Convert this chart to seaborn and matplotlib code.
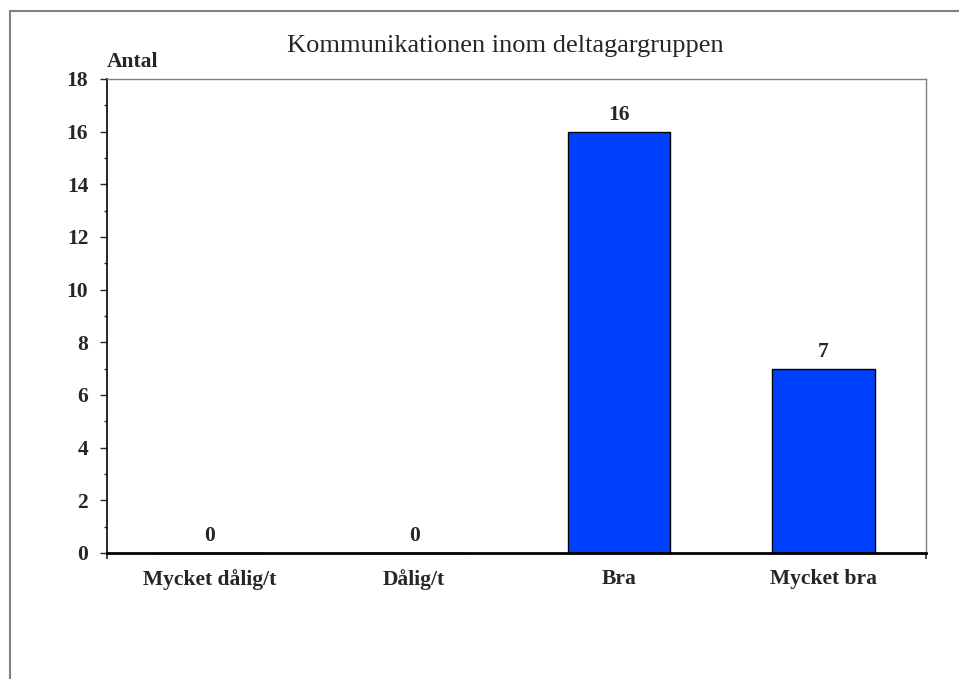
import matplotlib
matplotlib.use("Agg")
import matplotlib.pyplot as plt
import matplotlib.patches as patches
from matplotlib.ticker import MultipleLocator, FixedLocator
import seaborn as sns

# data
kategorier = ['Mycket dålig/t', 'Dålig/t', 'Bra', 'Mycket bra']
antal = [0, 0, 16, 7]
y_ticks = list(range(0, 19, 2))

sns.set_style('white')
plt.rcParams['font.family'] = ['Liberation Serif', 'DejaVu Serif']

fig = plt.figure(figsize=(9.59, 6.79), dpi=100)
ax = fig.add_axes([107/959, 1 - 553/679, 819/959, (553 - 79)/679])

sns.barplot(x=kategorier, y=antal, color='#0040ff', saturation=1, width=0.5,
            edgecolor='black', linewidth=1, ax=ax)

ax.set_xlim(-0.5, 3.5)
ax.set_ylim(0, 18)
ax.set_yticks(y_ticks)
ax.yaxis.set_minor_locator(MultipleLocator(1))
ax.xaxis.set_minor_locator(FixedLocator([-0.5, 3.5]))

ax.tick_params(axis='y', which='major', direction='out', length=5, width=1,
               labelsize=15.5, pad=8.5, left=True)
ax.tick_params(axis='y', which='minor', direction='out', length=2.5, width=1, left=True)
ax.tick_params(axis='x', which='major', length=0, labelsize=15.5, pad=11.5)
ax.tick_params(axis='x', which='minor', direction='out', length=4, width=1.2, bottom=True)
for lbl in ax.get_xticklabels() + ax.get_yticklabels():
    lbl.set_fontweight('bold')

for side in ['top', 'right']:
    ax.spines[side].set_color('#808080')
    ax.spines[side].set_linewidth(1)
ax.spines['left'].set_color('black')
ax.spines['left'].set_linewidth(1.2)
ax.spines['bottom'].set_color('black')
ax.spines['bottom'].set_linewidth(2)

ax.set_xlabel('')
ax.set_ylabel('')

ax.bar_label(ax.containers[0], padding=5, fontsize=15.5, fontweight='bold')

ax.text(0, 1.015, 'Antal', transform=ax.transAxes, fontsize=15.5,
        fontweight='bold', ha='left', va='bottom')
fig.text(505/959, 1 - 46/679, 'Kommunikationen inom deltagargruppen',
         fontsize=19, ha='center', va='center')

# ram runt hela diagrammet
ram = patches.Rectangle((10/959, -0.1), 1.2, 1 - 11/679 + 0.1,
                        transform=fig.transFigure, fill=False,
                        edgecolor='#808080', linewidth=1.5, clip_on=False)
fig.patches.append(ram)

fig.savefig('out.png', dpi=100)
